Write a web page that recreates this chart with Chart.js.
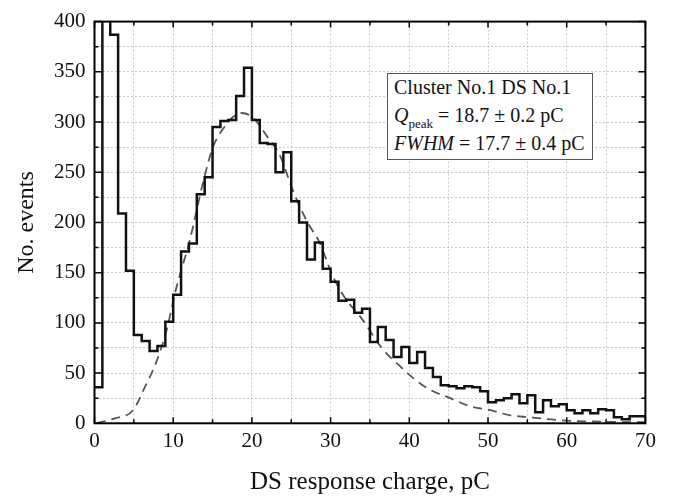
<!DOCTYPE html>
<html>
<head>
<meta charset="utf-8">
<script src="https://cdn.jsdelivr.net/npm/chart.js@4.4.1/dist/chart.umd.min.js"></script>
<style>
  body { margin: 0; background: #fff; }
  #wrap { position: relative; width: 683px; height: 503px; }
  #note {
    position: absolute; left: 387px; top: 73px; width: 204px; height: 85px;
    border: 1.5px solid #555; background: #fff;
    font-family: 'Liberation Serif', 'DejaVu Serif', serif; font-size: 20px; color: #111;
  }
  #note div { position: absolute; left: 6px; white-space: nowrap; }
  #note sub { font-size: 13px; vertical-align: -6px; }
</style>
</head>
<body>
<div id="wrap">
  <canvas id="chart" width="683" height="503"></canvas>
  <div id="note">
    <div style="top:2px">Cluster No.1 DS No.1</div>
    <div style="top:30px"><i>Q</i><sub>peak</sub> = 18.7 ± 0.2 pC</div>
    <div style="top:58px"><i>FWHM</i> = 17.7 ± 0.4 pC</div>
  </div>
</div>
<script>
// histogram, 1 pC bins starting at 0
const binWidth = 1;
const counts = [36, 450, 387, 209, 152, 88, 82, 72, 77, 101,
  128, 171, 179, 228, 245, 295, 301, 302, 326, 354,
  302, 279, 278, 250, 270, 221, 200, 163, 180, 154,
  141, 122, 123, 110, 114, 81, 96, 83, 66, 76,
  60, 71, 55, 46, 38, 37, 35, 37, 36, 32,
  21, 23, 25, 29, 20, 28, 11, 23, 17, 19,
  13, 10, 13, 10, 14, 13, 6, 4, 7, 7];

// fit curve
const fitX = [0.3, 2.6, 4.9, 6.4, 7.9, 9.2, 10.4, 12.1, 13.8, 15.1, 16.5, 17.6, 18.7,
  20.2, 21.9, 23.6, 25.2, 27.0, 28.6, 30.3, 32.0, 33.7, 36.7, 38.4, 40.5, 42.5,
  45.2, 47.7, 50.3, 52.8, 55.3, 57.9, 60.4, 65, 70];
const fitY = [0, 5, 13, 36, 62, 94, 135, 182, 240, 276, 295, 305, 309,
  304, 286, 266, 232, 201, 180, 146, 123, 107, 73, 60, 45, 34,
  25, 17, 13, 8, 6, 4, 2.5, 1.5, 1];

const xTitle = 'DS response charge, pC';
const yTitle = 'No. events';

const histPoints = counts.map((c, i) => ({ x: i * binWidth, y: c }));
histPoints.push({ x: counts.length * binWidth, y: counts[counts.length - 1] });
const fitPoints = fitX.map((x, i) => ({ x: x, y: fitY[i] }));

const serif = "'Liberation Serif', 'DejaVu Serif', serif";

// frame + inward ticks on all four sides
const framePlugin = {
  id: 'frame',
  afterDraw(chart) {
    const { ctx, chartArea: a, scales } = chart;
    ctx.save();
    ctx.strokeStyle = '#000';
    ctx.lineWidth = 1.5;
    ctx.beginPath();
    scales.x.ticks.forEach(t => {
      const px = scales.x.getPixelForValue(t.value);
      const len = t.value % 10 === 0 ? 6 : 4;
      ctx.moveTo(px, a.bottom); ctx.lineTo(px, a.bottom - len);
      ctx.moveTo(px, a.top); ctx.lineTo(px, a.top + len);
    });
    scales.y.ticks.forEach(t => {
      const py = scales.y.getPixelForValue(t.value);
      const len = t.value % 50 === 0 ? 7 : 4;
      ctx.moveTo(a.left, py); ctx.lineTo(a.left + len, py);
      ctx.moveTo(a.right, py); ctx.lineTo(a.right - len, py);
    });
    ctx.stroke();
    ctx.lineWidth = 2;
    ctx.strokeRect(a.left, a.top, a.right - a.left, a.bottom - a.top);
    ctx.restore();
  }
};

new Chart(document.getElementById('chart'), {
  type: 'line',
  data: {
    datasets: [
      {
        label: 'Histogram',
        data: histPoints,
        stepped: 'before',
        borderColor: '#111',
        borderWidth: 2.5,
        pointRadius: 0,
        fill: false
      },
      {
        label: 'Fit',
        data: fitPoints,
        borderColor: '#555',
        borderWidth: 1.8,
        borderDash: [9, 6],
        cubicInterpolationMode: 'monotone',
        pointRadius: 0,
        fill: false
      }
    ]
  },
  options: {
    responsive: false,
    animation: false,
    layout: { padding: { left: 0, top: 13, right: 37.6, bottom: 0 } },
    plugins: { legend: { display: false }, tooltip: { enabled: false } },
    scales: {
      x: {
        type: 'linear',
        min: 0, max: 70,
        afterFit: s => { s.height = 79.7; },
        grid: { color: 'rgba(0,0,0,0.2)', lineWidth: 1, drawTicks: false },
        border: { display: false, dash: [2, 2] },
        ticks: {
          stepSize: 5, padding: 6, color: '#111', maxRotation: 0, autoSkip: false,
          font: { family: serif, size: 21 },
          callback: v => (v % 10 === 0 ? v : '')
        },
        title: {
          display: true, text: xTitle, color: '#111',
          font: { family: serif, size: 25 }, padding: { top: 0, bottom: 6 }
        }
      },
      y: {
        min: 0, max: 400,
        afterFit: s => { s.width = 94.5; },
        grid: { color: 'rgba(0,0,0,0.2)', lineWidth: 1, drawTicks: false },
        border: { display: false, dash: [2, 2] },
        ticks: {
          stepSize: 25, padding: 9, color: '#111', autoSkip: false,
          font: { family: serif, size: 21 },
          callback: v => (v % 50 === 0 ? v : '')
        },
        title: {
          display: true, text: yTitle, color: '#111',
          font: { family: serif, size: 24 }, padding: { top: 12, bottom: 0 }
        }
      }
    }
  },
  plugins: [framePlugin]
});
</script>
</body>
</html>
